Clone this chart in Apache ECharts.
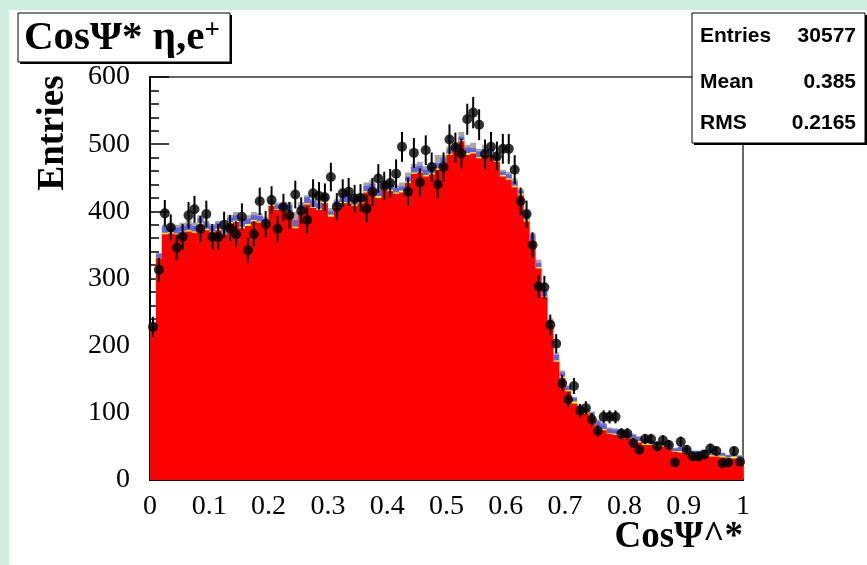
<!DOCTYPE html>
<html>
<head>
<meta charset="utf-8">
<script src="https://cdn.jsdelivr.net/npm/echarts@6/dist/echarts.min.js"></script>
<style>
html,body{margin:0;padding:0;background:#cdeee0;width:867px;height:565px;overflow:hidden;}
#bg{position:absolute;left:9px;top:10px;width:858px;height:555px;background:#ffffff;}
#chart{position:absolute;left:0;top:0;width:867px;height:565px;}
</style>
</head>
<body>
<div id="bg"></div>
<div id="chart"></div>
<script>
// ---- data ----
const BIN_WIDTH = 0.01;
const xTicks = ['0','0.1','0.2','0.3','0.4','0.5','0.6','0.7','0.8','0.9','1'];
const yTicks = [0,100,200,300,400,500,600];

// main (red) component, per bin of width 0.01 from 0 to 1
const redMC = [228,330,366,367,366,368,370,368,380,372,
  368,372,366,382,384,375,378,385,383,378,
  408,402,400,398,375,400,410,405,402,412,
  392,405,412,412,408,412,428,432,420,432,
  430,426,428,442,456,458,452,455,462,470,
  484,490,504,484,486,479,484,484,474,452,
  447,436,424,385,355,315,273,231,176,152,
  132,114,104,99,94,76,74,69,67,65,
  62,60,56,52,52,50,50,47,42,41,
  40,37,37,37,35,35,34,32,32,31];
const yellowMC = [1,1,2,2,1,2,2,2,3,2, 2,2,1,2,2,2,3,2,2,2,
  2,1,2,2,2,2,2,1,2,3, 3,2,2,1,2,2,2,2,3,2,
  2,2,3,2,2,1,2,2,2,2, 2,2,2,3,2,2,2,2,1,2,
  2,2,2,3,2,2,1,2,2,2, 2,3,2,2,2,2,2,1,2,2,
  2,2,2,3,2,2,2,2,1,2, 2,2,2,2,2,3,2,2,3,2];
const blueMC = [3,5,9,8,9,8,9,8,7,9, 8,9,8,7,8,9,8,7,8,9,
  5,7,8,9,10,8,9,10,8,7, 5,8,9,10,8,9,8,7,9,8,
  9,7,6,8,8,9,8,9,8,7, 6,7,5,8,6,8,7,6,8,5,
  6,7,5,9,8,6,7,5,8,6, 5,5,4,5,4,9,7,6,6,6,
  6,5,6,4,4,4,5,6,4,6, 5,4,4,5,3,3,4,3,3,3];
const grayMC = [1,2,3,4,4,5,6,5,4,3, 3,3,4,4,5,4,5,5,4,3,
  2,3,4,4,12,4,3,3,6,3, 5,3,4,4,3,3,5,6,3,4,
  5,4,6,6,5,6,5,4,12,4, 4,4,7,4,8,4,6,3,4,3,
  4,4,3,4,3,5,3,3,4,3, 2,2,2,2,2,3,2,2,2,2,
  1,2,1,2,1,1,1,1,1,1, 1,1,1,1,1,1,1,1,1,1];
// measured data points
const dataCounts = [228,313,397,376,346,362,394,403,374,396,
  362,362,380,375,366,392,342,366,415,381,
  417,374,406,394,425,401,387,427,423,421,
  451,407,427,429,419,420,404,429,449,438,
  442,456,496,429,487,443,491,466,440,466,
  507,495,486,537,547,529,485,496,482,493,
  493,462,415,396,350,288,287,231,203,144,
  120,140,103,107,90,73,94,94,94,69,
  69,55,45,61,61,50,59,52,26,57,
  45,35,35,38,47,43,25,26,43,27];
const statLabels = ['Entries','Mean','RMS'];
const statValues = ['30577','0.385','0.2165'];

// ---- build ----
const nBins = redMC.length;
function cumulative(layers){
  const out = [];
  for (let i=0;i<nBins;i++){ let s=0; layers.forEach(l=>s+=l[i]); out.push(s); }
  return out;
}
const stacks = [
  {name:'gray', color:'#a6a6a6', tops: cumulative([redMC,yellowMC,blueMC,grayMC])},
  {name:'blue', color:'#6262e4', tops: cumulative([redMC,yellowMC,blueMC])},
  {name:'yellow', color:'#ffff00', tops: cumulative([redMC,yellowMC])},
  {name:'red', color:'#ff0000', tops: cumulative([redMC])}
];

function stepSeries(st){
  return {
    type:'custom', name:st.name, silent:true, z:2,
    data:[[0]],
    renderItem:function(params, api){
      const pts = [api.coord([0,0])];
      for (let i=0;i<nBins;i++){
        pts.push(api.coord([i*BIN_WIDTH, st.tops[i]]));
        pts.push(api.coord([(i+1)*BIN_WIDTH, st.tops[i]]));
      }
      pts.push(api.coord([nBins*BIN_WIDTH,0]));
      return {type:'polygon', shape:{points:pts}, style:{fill:st.color, stroke:null}};
    }
  };
}

const pointData = dataCounts.map((v,i)=>[(i+0.5)*BIN_WIDTH, v]);
const errData = dataCounts.map((v,i)=>[(i+0.5)*BIN_WIDTH, v, Math.sqrt(v)]);

const serif = 'Liberation Serif';

const chart = echarts.init(document.getElementById('chart'), null, {renderer:'canvas'});
const option = {
  animation:false,
  grid:{left:150, right:124, top:77, bottom:85, show:true, borderColor:'#666666', borderWidth:2, backgroundColor:'#ffffff'},
  xAxis:{type:'value', min:0, max:1, interval:0.1,
    axisLine:{show:true, onZero:false, lineStyle:{color:'#000', width:2}},
    axisTick:{show:false}, splitLine:{show:false},
    axisLabel:{color:'#000', fontFamily:serif, fontSize:28, margin:13,
      formatter:function(v){ const idx=Math.round(v*10); return xTicks[idx]; }}
  },
  yAxis:{type:'value', min:yTicks[0], max:yTicks[yTicks.length-1], interval:100,
    axisLine:{show:true, lineStyle:{color:'#000', width:2}},
    axisTick:{show:true, inside:true, length:19, lineStyle:{color:'#000', width:1.5}},
    minorTick:{show:true, splitNumber:5, length:9, lineStyle:{color:'#000', width:1.5}},
    splitLine:{show:false},
    axisLabel:{color:'#000', fontFamily:serif, fontSize:28, margin:20}
  },
  series: stacks.map(stepSeries).concat([
    {type:'custom', name:'errors', silent:true, z:3, data:errData,
      renderItem:function(params, api){
        const x=api.value(0), v=api.value(1), e=api.value(2);
        const p1=api.coord([x, v-e]), p2=api.coord([x, v+e]);
        return {type:'line', shape:{x1:p1[0], y1:p1[1], x2:p2[0], y2:p2[1]}, style:{stroke:'#000', lineWidth:2}};
      }},
    {type:'scatter', name:'data', silent:true, z:4, data:pointData, symbol:'circle', symbolSize:10,
      itemStyle:{color:'#000'}}
  ]),
  graphic:[
    // title box
    {type:'rect', shape:{x:20, y:15, width:212, height:49}, style:{fill:'#000'}, z:10},
    {type:'rect', shape:{x:18, y:13, width:212, height:49}, style:{fill:'#fff', stroke:'#000', lineWidth:1}, z:11},
    {type:'text', x:24, y:38, z:12, style:{text:'{m|CosΨ* η,e}{s|+}', verticalAlign:'middle', align:'left',
      rich:{m:{fontFamily:serif, fontWeight:'bold', fontSize:41, fill:'#000', verticalAlign:'bottom'},
            s:{fontFamily:serif, fontWeight:'bold', fontSize:27, fill:'#000', verticalAlign:'top'}}}},
    // stats box
    {type:'rect', shape:{x:694, y:15, width:173, height:130}, style:{fill:'#000'}, z:10},
    {type:'rect', shape:{x:692, y:13, width:173, height:130}, style:{fill:'#fff', stroke:'#000', lineWidth:1}, z:11},
    {type:'text', x:700, y:36, z:12, style:{text:statLabels[0], font:'bold 21px "Liberation Sans"', fill:'#000', verticalAlign:'middle', align:'left'}},
    {type:'text', x:700, y:82, z:12, style:{text:statLabels[1], font:'bold 21px "Liberation Sans"', fill:'#000', verticalAlign:'middle', align:'left'}},
    {type:'text', x:700, y:123, z:12, style:{text:statLabels[2], font:'bold 21px "Liberation Sans"', fill:'#000', verticalAlign:'middle', align:'left'}},
    {type:'text', x:856, y:36, z:12, style:{text:statValues[0], font:'bold 21px "Liberation Sans"', fill:'#000', verticalAlign:'middle', align:'right'}},
    {type:'text', x:856, y:82, z:12, style:{text:statValues[1], font:'bold 21px "Liberation Sans"', fill:'#000', verticalAlign:'middle', align:'right'}},
    {type:'text', x:856, y:123, z:12, style:{text:statValues[2], font:'bold 21px "Liberation Sans"', fill:'#000', verticalAlign:'middle', align:'right'}},
    // axis titles
    {type:'text', x:53, y:133, rotation:Math.PI/2, z:12, style:{text:'Entries', font:'bold 37px "Liberation Serif"', fill:'#000', align:'center', verticalAlign:'middle'}},
    {type:'text', x:743, y:537, z:12, style:{text:'CosΨ^*', font:'bold 37px "Liberation Serif"', fill:'#000', align:'right', verticalAlign:'middle'}}
  ]
};
chart.setOption(option);
</script>
</body>
</html>
